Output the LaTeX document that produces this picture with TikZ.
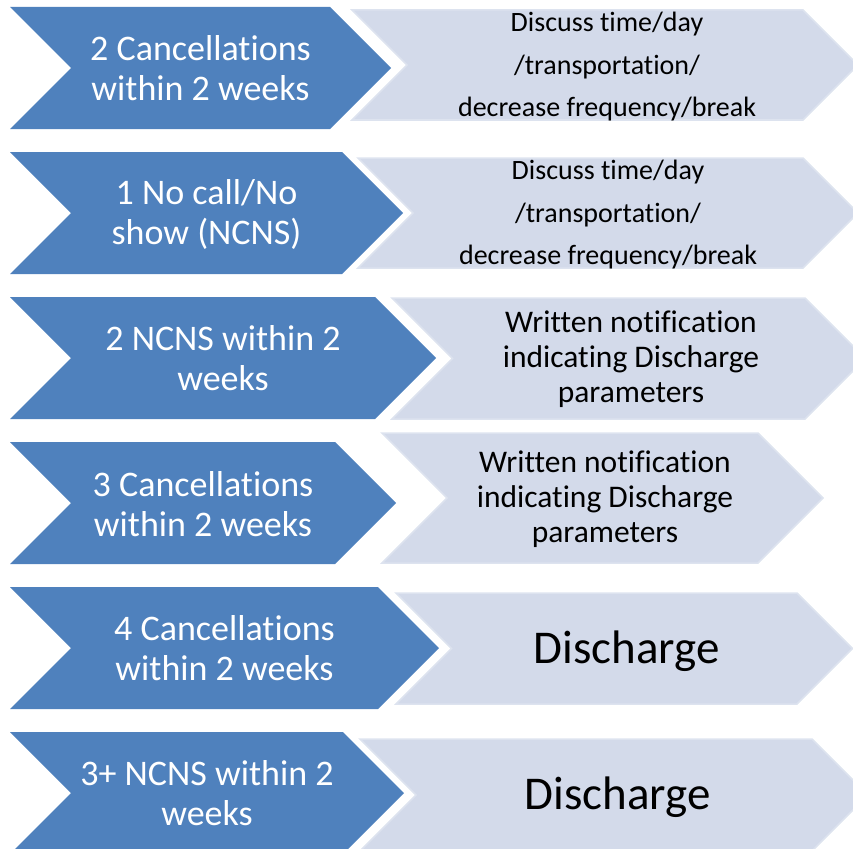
\documentclass[tikz,border=0pt]{standalone}
\usepackage{fontspec}
\setmainfont[RawFeature={-liga;-clig;-dlig;-calt}]{Carlito}
\usetikzlibrary{positioning}

\definecolor{chevblue}{HTML}{4F81BD}
\definecolor{chevlight}{HTML}{D3DAEA}
\definecolor{chevedge}{HTML}{DDE3EF}

% chevron: style, left, top, right of body, height
\newcommand{\chevron}[5]{%
  \path[#1] ({#2},{#3}) -- ({#4},{#3}) -- ({#4+#5/2},{#3+#5/2}) -- ({#4},{#3+#5})
    -- ({#2},{#3+#5}) -- ({#2+#5/2},{#3+#5/2}) -- cycle;}

\begin{document}
\begin{tikzpicture}[x=1pt,y=-1pt,
    bluechev/.style={fill=chevblue},
    lightchev/.style={fill=chevlight,draw=chevedge,line width=1.5pt},
    condtext/.style={text=white,align=center,font=\fontsize{36}{40}\selectfont},
    acttext/.style={text=black,align=center}]
  \useasboundingbox (0,0) rectangle (853,848);

  % light chevrons behind
  \foreach \l/\t/\r/\h in {352/10/803/110,358/158/803/110,392/298/805/121,
                            382/433/758/130,396/593/797/111,360/739/812/112} {
    \chevron{lightchev}{\l}{\t}{\r}{\h}
  }
  % blue chevrons
  \foreach \i/\r in {1/330,2/342,3/375,4/335,5/378,6/343} {
    \pgfmathsetmacro{\t}{7+145*(\i-1)}
    \chevron{bluechev}{10}{\t}{\r}{122}
  }

  \node[condtext] (cond1) at (200.5,68) {2 Cancellations\\within 2 weeks};
  \node[condtext] (cond2) at (206.5,214) {1 No call/No\\show (NCNS)};
  \node[condtext] (cond3) at (223,358) {2 NCNS within 2\\weeks};
  \node[condtext] (cond4) at (203,504) {3 Cancellations\\within 2 weeks};
  \node[condtext] (cond5) at (224.5,648.5) {4 Cancellations\\within 2 weeks};
  \node[condtext] (cond6) at (207,793) {3+ NCNS within 2\\weeks};

  \node[acttext,font=\fontsize{28}{42.5}\selectfont] (act1) at (607,67)
    {Discuss time/day\\/transportation/\\decrease frequency/break};
  \node[acttext,font=\fontsize{28}{42.5}\selectfont] (act2) at (608,215)
    {Discuss time/day\\/transportation/\\decrease frequency/break};
  \node[acttext,font=\fontsize{31.5}{35}\selectfont] (act3) at (631,359.5)
    {Written notification\\indicating Discharge\\parameters};
  \node[acttext,font=\fontsize{31.5}{35}\selectfont] (act4) at (605,499)
    {Written notification\\indicating Discharge\\parameters};
  \node[acttext,font=\fontsize{47}{50}\selectfont] (act5) at (626.5,651.5) {Discharge};
  \node[acttext,font=\fontsize{47}{50}\selectfont] (act6) at (617.5,797.5) {Discharge};
\end{tikzpicture}
\end{document}
